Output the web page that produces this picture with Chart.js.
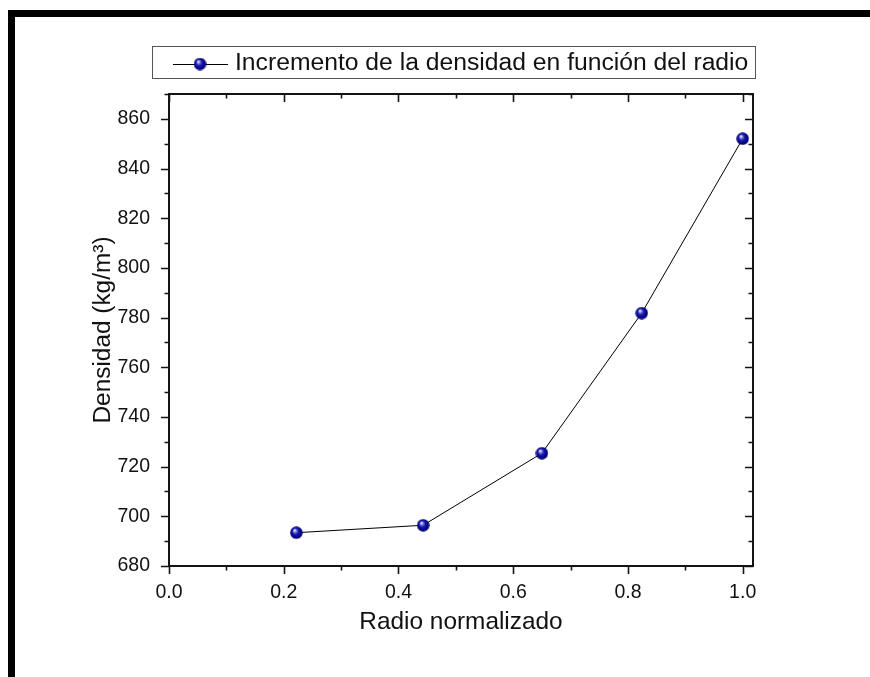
<!DOCTYPE html>
<html>
<head>
<meta charset="utf-8">
<script src="https://cdn.jsdelivr.net/npm/chart.js@4/dist/chart.umd.min.js"></script>
<style>
  html, body { margin: 0; padding: 0; background: #ffffff; }
  #c { display: block; }
</style>
</head>
<body>
<canvas id="c" width="870" height="677"></canvas>
<script>
// ---- data ----
const seriesLabel = 'Incremento de la densidad en función del radio';
const radioNormalizado = [0.222, 0.443, 0.65, 0.824, 1.0];
const densidad = [693.4, 696.4, 725.4, 781.8, 852.0];
const xTitle = 'Radio normalizado';
const yTitle = 'Densidad (kg/m\u00B3)';
const xMin = 0, xMax = 1.018, xStep = 0.2, xMinorStep = 0.1;
const yMin = 680, yMax = 870, yStep = 20, yMinorStep = 10;

const FONT = '"Liberation Sans", Arial, sans-serif';

// sphere marker image
function makeSphere(d) {
  const cv = document.createElement('canvas');
  cv.width = d; cv.height = d;
  const g = cv.getContext('2d');
  const r = d / 2;
  const grad = g.createRadialGradient(r * 0.72, r * 0.62, 0.3, r, r, r);
  grad.addColorStop(0, '#ffffff');
  grad.addColorStop(0.18, '#8a8ae8');
  grad.addColorStop(0.45, '#1a1aa8');
  grad.addColorStop(0.8, '#00008a');
  grad.addColorStop(1, '#00004e');
  g.fillStyle = grad;
  g.beginPath();
  g.arc(r, r, r - 0.3, 0, Math.PI * 2);
  g.fill();
  return cv;
}
const sphere = makeSphere(13);

const points = radioNormalizado.map((x, i) => ({ x: x, y: densidad[i] }));

const decor = {
  id: 'decor',
  beforeDraw(chart) {
    const ctx = chart.ctx;
    ctx.save();
    ctx.fillStyle = '#ffffff';
    ctx.fillRect(0, 0, chart.width, chart.height);
    // page border
    ctx.fillStyle = '#000000';
    ctx.fillRect(8, 10, 862, 7);
    ctx.fillRect(8, 10, 7, 667);
    ctx.restore();
  },
  afterDraw(chart) {
    const ctx = chart.ctx;
    const xs = chart.scales.x, ys = chart.scales.y;
    const a = chart.chartArea;
    ctx.save();
    ctx.strokeStyle = '#141414';
    ctx.lineWidth = 2;
    ctx.strokeRect(a.left, a.top, a.right - a.left, a.bottom - a.top);
    ctx.lineWidth = 1.6;
    ctx.beginPath();
    // x ticks (bottom outward, top inward)
    const nX = Math.round((1.0 - xMin) / xMinorStep);
    for (let i = 0; i <= nX; i++) {
      const v = xMin + i * xMinorStep;
      const px = Math.round(xs.getPixelForValue(v)) + 0.5;
      const major = i % 2 === 0;
      const L = major ? 8 : 4.5;
      ctx.moveTo(px, a.bottom); ctx.lineTo(px, a.bottom + L);
      ctx.moveTo(px, a.top); ctx.lineTo(px, a.top + L);
    }
    // y ticks (left outward, right inward)
    const nY = Math.round((yMax - yMin) / yMinorStep);
    for (let i = 0; i <= nY; i++) {
      const v = yMin + i * yMinorStep;
      const py = Math.round(ys.getPixelForValue(v)) + 0.5;
      const major = i % 2 === 0;
      const L = major ? 8 : 4.5;
      ctx.moveTo(a.left, py); ctx.lineTo(a.left - L, py);
      ctx.moveTo(a.right, py); ctx.lineTo(a.right - L, py);
    }
    ctx.stroke();

    // legend box
    const ds = chart.data.datasets[0];
    ctx.strokeStyle = '#555555';
    ctx.lineWidth = 1;
    ctx.strokeRect(152.5, 46.5, 603, 32);
    ctx.strokeStyle = '#000000';
    ctx.lineWidth = 1;
    ctx.beginPath();
    ctx.moveTo(173, 64.5); ctx.lineTo(228, 64.5);
    ctx.stroke();
    ctx.drawImage(sphere, 200 - 6.5, 64 - 6.5);
    ctx.fillStyle = '#111111';
    ctx.font = '24.7px ' + FONT;
    ctx.textBaseline = 'middle';
    ctx.textAlign = 'left';
    ctx.fillText(ds.label, 235, 63);
    ctx.restore();
  }
};

new Chart(document.getElementById('c'), {
  type: 'line',
  data: {
    datasets: [{
      label: seriesLabel,
      data: points,
      borderColor: '#000000',
      borderWidth: 1,
      pointStyle: sphere,
      pointRadius: 6.5,
      pointHoverRadius: 6.5,
      tension: 0,
      fill: false
    }]
  },
  options: {
    responsive: false,
    animation: false,
    devicePixelRatio: 1,
    layout: { padding: { left: 0, top: 94, right: 117, bottom: 0 } },
    plugins: { legend: { display: false }, tooltip: { enabled: false } },
    scales: {
      x: {
        type: 'linear',
        min: xMin, max: xMax,
        grid: { display: false },
        border: { display: false },
        ticks: {
          stepSize: xStep,
          includeBounds: false,
          padding: 7,
          color: '#111111',
          font: { family: FONT, size: 19.5 },
          callback: v => v.toFixed(1)
        },
        title: {
          display: true, text: xTitle, color: '#111111',
          font: { family: FONT, size: 24.4 },
          padding: { top: 0, bottom: 40 }
        },
        afterFit(s) { s.height = 677 - 566; }
      },
      y: {
        type: 'linear',
        min: yMin, max: yMax,
        grid: { display: false },
        border: { display: false },
        ticks: {
          stepSize: yStep,
          includeBounds: false,
          padding: 11,
          color: '#111111',
          font: { family: FONT, size: 19.5 },
          callback: v => String(v)
        },
        title: {
          display: true, text: yTitle, color: '#111111',
          font: { family: FONT, size: 24.4 },
          padding: { top: 89, bottom: 0 }
        },
        afterFit(s) { s.width = 169; }
      }
    }
  },
  plugins: [decor]
});
</script>
</body>
</html>
